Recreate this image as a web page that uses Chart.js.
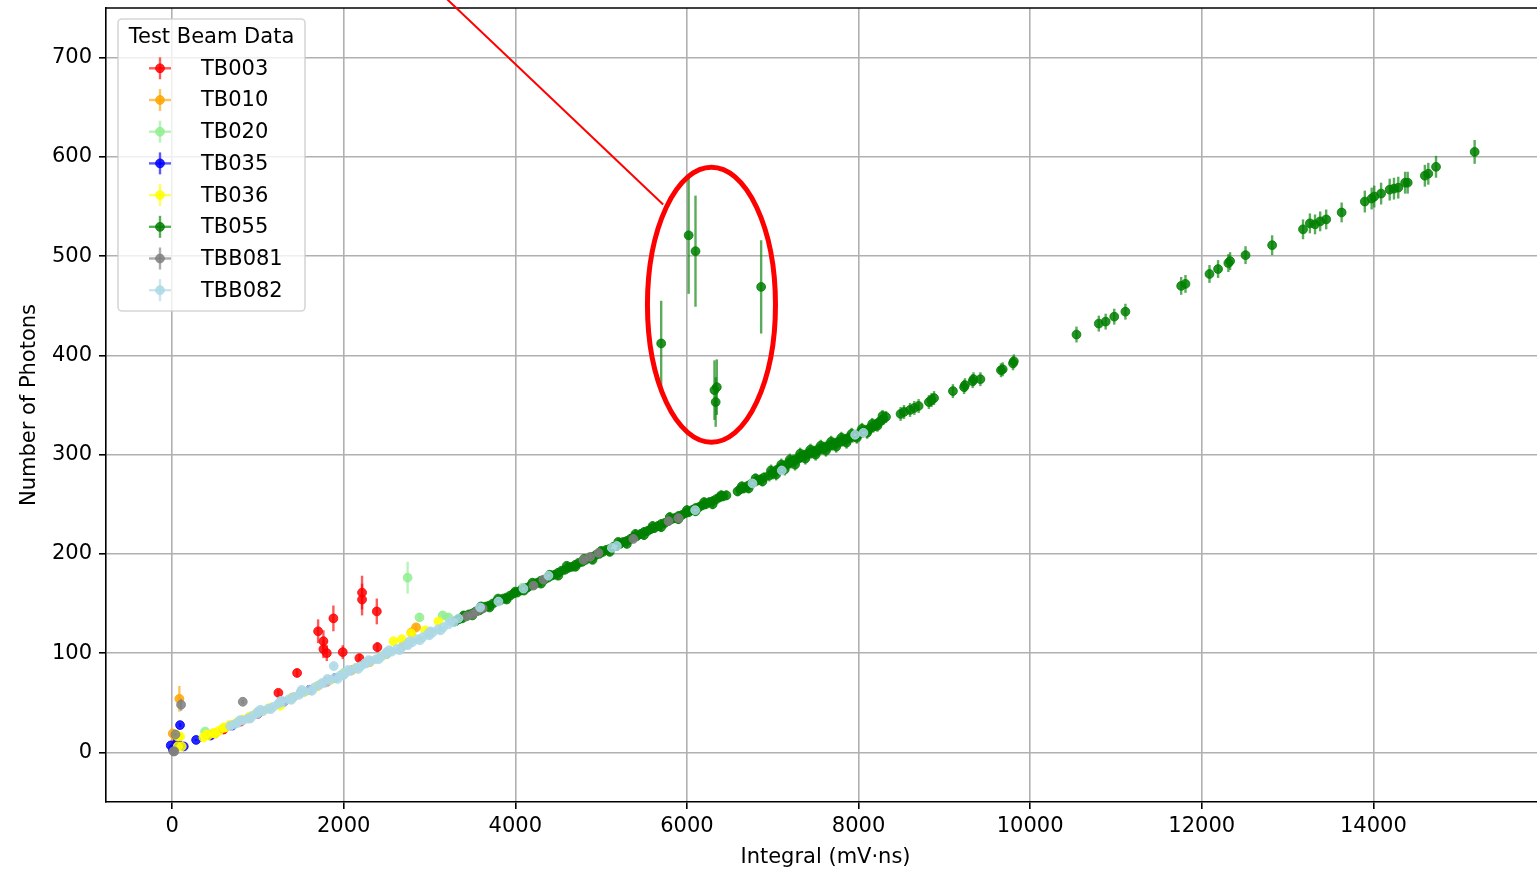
<!DOCTYPE html>
<html>
<head>
<meta charset="utf-8">
<script src="https://cdn.jsdelivr.net/npm/chart.js@4.4.1/dist/chart.umd.min.js"></script>
<style>
html,body{margin:0;padding:0;background:#fff;overflow:hidden;}
#wrap{width:1560px;height:872px;position:relative;}
</style>
</head>
<body>
<div id="wrap"><canvas id="c"></canvas></div>
<script>
// ---------------- DATA ----------------
const seriesNames = ['TB003','TB010','TB020','TB035','TB036','TB055','TBB081','TBB082'];
const seriesColors = ['255,0,0','255,165,0','144,238,144','0,0,255','255,255,0','0,128,0','128,128,128','173,216,230'];

// [integral (mV·ns), photons, error]
const tb003Points = [[600,23,1],[800,31,2],[1000,39,2],[1239,60,3],[1400,55,2],[1457,80,4],[1600,63,2],[1702,122,12],[1764,112,11],[1764,104,9],[1803,100,8],[1800,71,3],[1880,135,13],[1989,101,7],[2000,79,3],[2183,95,4],[2214,161,17],[2214,154,16],[2300,91,3],[2386,142,13],[2393,106,5]];
const tb010Points = [[8,19,2],[40,12,1],[85,54,13],[500,19,1],[900,35,2],[1300,51,2],[1700,67,2],[2100,83,3],[2500,99,3],[2700,108,3],[2790,121,3],[2844,126,3]];
const tb020Points = [[385,21,1],[1000,40,2],[1500,60,2],[2000,80,2],[2500,100,3],[2745,176,16],[2883,136,4],[3000,121,3],[3154,138,3],[3221,136,3],[3400,137,3],[3610,147,3],[4087,166,3]];
const tb035Points = [[-15,7,1],[10,3,1],[60,10,1],[93,27.5,2],[136,6,1],[280,12.5,1],[450,17,1],[700,27,1],[1000,39,1],[1300,51,2],[1600,63,2],[1900,75,2]];
const tb036Points = [[50,18,1],[66,6,1],[66,16,1],[93,16,1],[113,6,1],[365,15,1],[400,18,1],[420,17,1],[480,19.5,1],[500,19,1],[550,22,1],[600,25,1],[620,25,1],[676,28,1],[750,30,1],[820,33,1],[900,36,1],[980,39,1],[1060,42,1],[1140,45,1],[1259,47,1],[1400,55,1],[1550,61,1],[1700,67,1],[1850,73,1],[2000,79,1],[2150,85,1],[2300,91,1],[2450,97,1],[2580,112,2],[2677,114,2],[2786,120,2],[2950,123,2],[3104,132,2]];
const tb055Points = [
[3300,132,4],[3340,134,4],[3380,135,4],[3420,137,4],[3460,139,4],[3500,140,4],[3540,142,4],[3580,143,4],[3620,145,4],[3660,147,4],[3700,148,4],[3740,150,4],[3780,152,4],[3820,153,4],[3860,155,4],[3900,156,4],[3940,158,4],[3980,160,4],[4020,161,4],[4060,163,4],[4100,165,4],[4140,166,4],[4180,168,4],[4220,169,4],[4260,171,4],[4300,173,4],[4340,174,4],[4380,176,4],[4420,178,4],[4460,179,4],[4500,181,4],[4540,183,4],[4580,184,4],[4620,186,4],[4660,187,4],[4700,189,4],[4740,191,4],[4780,192,4],[4820,194,4],[4860,196,4],[4900,197,4],[4940,199,4],[4980,200,4],[5020,202,4],[5060,204,4],[5100,205,4],[5140,207,4],[5180,208,4],[5220,210,4],[5260,212,4],[5300,213,4],[5340,215,5],[5380,217,5],[5420,218,5],[5460,220,5],[5500,222,5],[5540,223,5],[5580,225,5],[5620,226,5],[5660,228,5],[5700,230,5],[5740,231,5],[5780,233,5],[5820,235,5],[5860,236,5],[5900,238,5],[5940,239,5],[5980,241,5],[6020,242,5],[6060,244,5],[6100,246,5],[6140,247,5],[6180,249,5],[6220,250,5],[6260,252,5],[6300,253,5],[6340,255,5],[6380,257,5],[6420,258,5],[6460,259,5],[6590,263,5],[6620,265,5],[6660,266,5],[6700,268,5],[6740,270,5],[6780,272,5],[6820,274,5],[6860,275,5],[6900,277,5],[6960,279,6],[7000,281,6],[7030,283,6],[7060,285,6],[7090,286,6],[7120,288,6],[7150,289,6],[7180,291,6],[7210,292,6],[7240,294,6],[7270,295,6],[7300,296,6],[7330,298,6],[7360,299,6],[7390,300,6],[7420,301,6],[7450,302,6],[7480,303,6],[7510,304,6],[7540,305,6],[7570,306,6],[7600,307,6],[7630,308,6],[7660,309,6],[7690,310,6],[7720,311,6],[7750,312,6],[7780,313,6],[7810,314,6],[7840,315,6],[7870,316,6],[7900,317,6],[7930,318,6],[7960,319,6],[7990,320,6],[8020,322,6],[8050,323,6],[8080,324,6],[8110,325,6],[8140,327,6],[8170,328,6],[8200,330,6],[8230,332,6],[8260,334,6],[8290,336,6],[8320,338,6],
[6980,284,6],[7040,280,6],[7100,290,6],[7140,285,6],[7200,295,6],[7260,290,6],[7320,301,6],[7380,296,6],[7440,305,6],[7500,300,6],[7560,309,6],[7620,304,6],[7680,313,6],[7740,308,6],[7800,317,6],[7860,312,6],[7920,321,6],[7980,317,6],[8040,326,6],[8100,322,6],[8160,331,6],[8220,329,6],[8280,339,6],
[5000,203,4],[5100,202,4],[5200,212,4],[5300,210,4],[5400,220,5],[5500,219,5],[5600,228,5],[5700,227,5],[5800,237,5],[5900,235,5],[6000,244,5],[6100,243,5],[6200,252,5],[6300,250,5],[6400,259,5],[6640,268,5],[6720,266,5],[6800,276,5],[6880,273,5],
[4000,162,4],[4100,163,4],[4200,171,4],[4300,170,4],[4400,179,4],[4500,178,4],[4600,188,4],[4700,187,4],[4800,195,4],[4900,194,4],[3400,138,4],[3500,138,4],[3600,147,4],[3700,146,4],[3800,155,4],[3900,154,4],
[8490,341,7],[8530,343,7],[8600,345,7],[8650,347,7],[8700,349,7],[8820,353,7],[8850,355,7],[8880,357,7],[9100,364,7],[9230,368,7],[9240,370,7],[9330,374,7],[9340,376,7],[9420,376,7],[9660,385,7],[9680,386,7],[9800,392,7],[9810,394,7],[10540,421,8],[10800,432,8],[10880,434,8],[10980,439,8],[11110,444,8],[11760,470,9],[11810,472,9],[12090,482,9],[12190,487,9],[12310,493,9],[12330,495,9],[12510,501,9],[12820,511,10],[13180,527,10],[13260,533,10],[13320,532,10],[13380,535,10],[13450,537,10],[13630,544,10],[13900,555,11],[13980,558,11],[14010,560,11],[14090,563,11],[14190,567,11],[14240,568,11],[14290,569,11],[14370,574,11],[14400,574,11],[14600,581,11],[14640,583,11],[14730,590,11],[15180,605,12],
[5700,412,43],[6020,521,59],[6100,505,56],[6865,469,47],[6348,368,28],[6321,365,30],[6335,353,25]];
const tbb081Points = [[15,1,1],[27,1,1],[39,18,1],[105,48,6],[824,51,2],[3434,137,2],[3500,139,2],[3550,142,2],[3620,145,2],[4212,168,2],[4328,174,2],[4794,194,2],[4872,197,2],[4969,201,2],[5376,215,2],[5785,233,3],[5901,236,3]];
const tbb082Points = [[676,26.5,1],[720,28,1],[760,29.5,1],[820,32,1],[880,34,1],[940,37,1],[1000,39,1],[1000,41,1],[1060,41.5,1],[1120,44,1],[1180,46,1],[1240,49,1],[1250,50,1],[1300,51,1],[1360,53.5,1],[1420,56,1],[1480,58,1],[1500,61,1],[1540,61,1],[1600,63,1],[1660,65.5,1],[1720,68,1],[1750,70,1],[1780,70,1],[1840,73,1],[1884,87,2],[1900,75,1],[1960,77.5,1],[2000,78,1],[2020,80,1],[2080,82,1],[2140,85,1],[2200,87,1],[2250,90,1],[2260,89.5,1],[2320,92,1],[2380,94,1],[2440,97,1],[2500,99,1],[2500,101,1],[2560,101.5,1],[2620,104,1],[2680,106,1],[2740,109,1],[2750,108,1],[2800,111,1],[2860,114,1],[2920,116,1],[2980,119,1],[3000,118,1],[3040,121,1],[3100,124,1],[3160,126,1],[3220,129,1],[3280,131,1],
[790,32.5,1],[910,34,1],[1030,43,1],[1150,43.5,1],[1270,52,1],[1390,53,1],[1510,63,1],[1630,62,1],[1810,74,1],[1930,74,1],[2050,83,1],[2170,84,1],[2290,93,1],[2410,94,1],[2530,103,1],[2650,103,1],[2770,112,1],[2890,113,1],[3010,122,1],[3130,123,1],[3250,132,1],
[3337,135,1],[3590,146,1],[3803,152,1],[4095,165,1],[4386,178,1],[5125,206,1],[5183,208,1],[6096,244,1],[6764,271,1],[7106,284,1],[7960,320,1],[8057,322,1]];

const xTicks = [0,2000,4000,6000,8000,10000,12000,14000];
const yTicks = [0,100,200,300,400,500,600,700];
const xRange = [-770, 16000];
const yRange = [-50, 750];
const xTitle = 'Integral (mV·ns)';
const yTitle = 'Number of Photons';
const legendTitle = 'Test Beam Data';
// annotation (data coordinates)
const ellipseCenter = [6286, 451];
const ellipseRadii = [746, 138.5];
const arrowStart = [3069, 770];
const arrowEnd = [5723, 552];

// ---------------- BUILD ----------------
const seriesPoints = [tb003Points,tb010Points,tb020Points,tb035Points,tb036Points,tb055Points,tbb081Points,tbb082Points];
const FONT = 'DejaVu Sans';
const rgba = (c,a) => 'rgba(' + c + ',' + a + ')';
const MARK_ALPHA = 0.85;
const BAR_ALPHA = 0.65;

const datasets = seriesNames.map((name, i) => ({
  label: name,
  data: seriesPoints[i].map(p => ({x: p[0], y: p[1], err: p[2]})),
  order: seriesNames.length - i,
  barColor: rgba(seriesColors[i], BAR_ALPHA),
  backgroundColor: rgba(seriesColors[i], MARK_ALPHA),
  borderColor: rgba(seriesColors[i], MARK_ALPHA),
  pointRadius: 4.4,
  pointHoverRadius: 4.4,
  pointBorderWidth: 1,
  showLine: false
}));

const errorBars = {
  id: 'errorBars',
  beforeDatasetDraw(chart, args) {
    const ds = chart.data.datasets[args.index];
    const {ctx, chartArea: a} = chart;
    const xs = chart.scales.x, ys = chart.scales.y;
    ctx.save();
    ctx.beginPath();
    ctx.rect(a.left, a.top, a.right - a.left, a.bottom - a.top);
    ctx.clip();
    ctx.strokeStyle = ds.barColor;
    ctx.lineWidth = 2.4;
    ds.data.forEach(p => {
      const px = xs.getPixelForValue(p.x);
      ctx.beginPath();
      ctx.moveTo(px, ys.getPixelForValue(p.y + p.err));
      ctx.lineTo(px, ys.getPixelForValue(p.y - p.err));
      ctx.stroke();
    });
    ctx.restore();
  }
};

const annotations = {
  id: 'annotations',
  afterDatasetsDraw(chart) {
    const {ctx, chartArea: a} = chart;
    const xs = chart.scales.x, ys = chart.scales.y;
    ctx.save();
    ctx.strokeStyle = '#000';
    ctx.lineWidth = 1.6;
    ctx.beginPath();
    ctx.moveTo(a.left, a.top);
    ctx.lineTo(a.right, a.top);
    ctx.stroke();
    ctx.strokeStyle = '#ff0000';
    ctx.lineWidth = 2;
    ctx.beginPath();
    ctx.moveTo(xs.getPixelForValue(arrowStart[0]), ys.getPixelForValue(arrowStart[1]));
    ctx.lineTo(xs.getPixelForValue(arrowEnd[0]), ys.getPixelForValue(arrowEnd[1]));
    ctx.stroke();
    const cx = xs.getPixelForValue(ellipseCenter[0]);
    const cy = ys.getPixelForValue(ellipseCenter[1]);
    const rx = Math.abs(xs.getPixelForValue(ellipseCenter[0] + ellipseRadii[0]) - cx);
    const ry = Math.abs(ys.getPixelForValue(ellipseCenter[1] + ellipseRadii[1]) - cy);
    ctx.lineWidth = 5;
    ctx.beginPath();
    ctx.ellipse(cx, cy, rx, ry, 0, 0, Math.PI * 2);
    ctx.stroke();
    ctx.restore();
  }
};

const legendBox = {
  id: 'legendBox',
  afterDraw(chart) {
    const ctx = chart.ctx;
    const L = 118, T = 19, R = 305, B = 311, r = 4;
    ctx.save();
    ctx.beginPath();
    ctx.moveTo(L + r, T);
    ctx.lineTo(R - r, T); ctx.arcTo(R, T, R, T + r, r);
    ctx.lineTo(R, B - r); ctx.arcTo(R, B, R - r, B, r);
    ctx.lineTo(L + r, B); ctx.arcTo(L, B, L, B - r, r);
    ctx.lineTo(L, T + r); ctx.arcTo(L, T, L + r, T, r);
    ctx.closePath();
    ctx.fillStyle = 'rgba(255,255,255,0.8)';
    ctx.fill();
    ctx.strokeStyle = 'rgba(204,204,204,0.8)';
    ctx.lineWidth = 1.6;
    ctx.stroke();
    ctx.font = '21px "' + FONT + '"';
    ctx.fillStyle = '#000';
    ctx.textBaseline = 'middle';
    ctx.textAlign = 'center';
    ctx.fillText(legendTitle, (L + R) / 2, 38);
    ctx.textAlign = 'left';
    seriesNames.forEach((name, i) => {
      const y = 68.3 + i * 31.7;
      const mx = 160;
      ctx.strokeStyle = rgba(seriesColors[i], BAR_ALPHA);
      ctx.lineWidth = 2.4;
      ctx.beginPath(); ctx.moveTo(mx - 11, y); ctx.lineTo(mx + 11, y); ctx.stroke();
      ctx.beginPath(); ctx.moveTo(mx, y - 11); ctx.lineTo(mx, y + 11); ctx.stroke();
      ctx.fillStyle = rgba(seriesColors[i], MARK_ALPHA);
      ctx.strokeStyle = rgba(seriesColors[i], MARK_ALPHA);
      ctx.lineWidth = 1;
      ctx.beginPath(); ctx.arc(mx, y, 4.4, 0, Math.PI * 2); ctx.fill(); ctx.stroke();
      ctx.fillStyle = '#000';
      ctx.fillText(name, 201, y + 1);
    });
    ctx.restore();
  }
};

const tickFont = {family: FONT, size: 21};
new Chart(document.getElementById('c'), {
  type: 'scatter',
  data: {datasets},
  plugins: [errorBars, annotations, legendBox],
  options: {
    responsive: true,
    maintainAspectRatio: false,
    devicePixelRatio: 1,
    animation: false,
    events: [],
    layout: {padding: {top: 8, right: 15, left: 0, bottom: 0}},
    plugins: {legend: {display: false}, tooltip: {enabled: false}},
    scales: {
      x: {
        type: 'linear',
        min: xRange[0], max: xRange[1],
        afterBuildTicks: s => { s.ticks = xTicks.map(v => ({value: v})); },
        afterFit: s => { s.height = 70; s.paddingLeft = 0; s.paddingRight = 0; },
        grid: {color: '#b0b0b0', lineWidth: 1.6, tickColor: '#000', tickLength: 7, tickWidth: 1.6, drawTicks: true},
        border: {color: '#000', width: 1.6},
        ticks: {color: '#000', font: tickFont, padding: 5, maxRotation: 0, autoSkip: false, callback: v => String(v)},
        title: {display: true, text: xTitle, color: '#000', font: tickFont, padding: {top: 0, bottom: 2}}
      },
      y: {
        type: 'linear',
        min: yRange[0], max: yRange[1],
        afterBuildTicks: s => { s.ticks = yTicks.map(v => ({value: v})); },
        afterFit: s => { s.width = 106; s.paddingTop = 0; s.paddingBottom = 0; },
        grid: {color: '#b0b0b0', lineWidth: 1.6, tickColor: '#000', tickLength: 7, tickWidth: 1.6, drawTicks: true},
        border: {color: '#000', width: 1.6},
        ticks: {color: '#000', font: tickFont, padding: 7, autoSkip: false, callback: v => String(v)},
        title: {display: true, text: yTitle, color: '#000', font: tickFont, padding: {top: 17, bottom: 0}}
      }
    }
  }
});
</script>
</body>
</html>
